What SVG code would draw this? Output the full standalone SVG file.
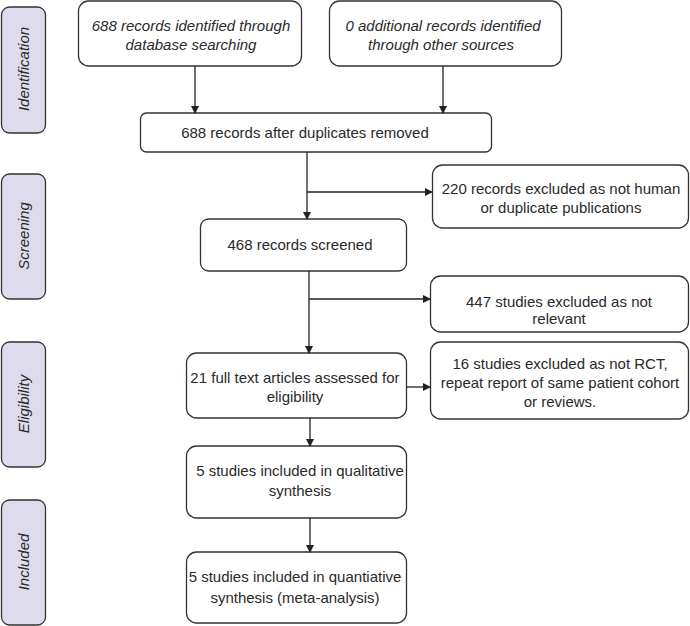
<svg xmlns="http://www.w3.org/2000/svg" width="690" height="626" viewBox="0 0 690 626">
<style>
.box{fill:#fff;stroke:#333;stroke-width:1.3}
.side{fill:#dedcec;stroke:#333;stroke-width:1.3}
text{font-family:"Liberation Sans",Arial,sans-serif;font-size:15px;fill:#2a2a2a;text-anchor:middle}
.it{font-style:italic}
.conn{stroke:#222;stroke-width:1.3;fill:none}
</style>
<defs>
<marker id="ah" markerWidth="8" markerHeight="8" refX="7" refY="4" orient="auto" markerUnits="userSpaceOnUse">
<path d="M0,0 L8,4 L0,8 Z" fill="#222"/>
</marker>
</defs>
<g id="side-identification"><rect class="side" x="1.5" y="7" width="44" height="126" rx="8"/><text class="it" transform="translate(29,69) rotate(-90)">Identification</text></g>
<g id="side-screening"><rect class="side" x="1.5" y="174" width="44" height="125" rx="8"/><text class="it" transform="translate(29,236) rotate(-90)">Screening</text></g>
<g id="side-eligibility"><rect class="side" x="1.5" y="342" width="44" height="125" rx="8"/><text class="it" transform="translate(29,404) rotate(-90)">Eligibility</text></g>
<g id="side-included"><rect class="side" x="1.5" y="500" width="44" height="125" rx="8"/><text class="it" transform="translate(29,562) rotate(-90)">Included</text></g>

<g id="n1"><rect class="box" x="78.5" y="1" width="223" height="65" rx="10"/><text class="it" x="191" y="31">688 records identified through</text><text class="it" x="191" y="50">database searching</text></g>
<g id="n2"><rect class="box" x="329.5" y="1" width="232" height="65" rx="10"/><text class="it" x="443" y="31">0 additional records identified</text><text class="it" x="441" y="50">through other sources</text></g>
<g id="n3"><rect class="box" x="140.5" y="113" width="351" height="39" rx="6"/><text x="305" y="138">688 records after duplicates removed</text></g>
<g id="n4"><rect class="box" x="432.5" y="165" width="256" height="63" rx="10"/><text x="561" y="194">220 records excluded as not human</text><text x="561" y="213">or duplicate publications</text></g>
<g id="n5"><rect class="box" x="200.5" y="219" width="206" height="52" rx="8"/><text x="300" y="250">468 records screened</text></g>
<g id="n6"><rect class="box" x="430.5" y="276" width="258" height="56" rx="10"/><text x="559" y="307">447 studies excluded as not</text><text x="559" y="324">relevant</text></g>
<g id="n7"><rect class="box" x="186.5" y="353" width="220" height="65" rx="10"/><text x="295" y="383">21 full text articles assessed for</text><text x="295" y="402">eligibility</text></g>
<g id="n8"><rect class="box" x="430.5" y="342" width="258" height="77" rx="10"/><text x="560" y="369">16 studies excluded as not RCT,</text><text x="560" y="388">repeat report of same patient cohort</text><text x="560" y="407">or reviews.</text></g>
<g id="n9"><rect class="box" x="186.5" y="446" width="220" height="72" rx="10"/><text x="300" y="476">5 studies included in qualitative</text><text x="300" y="496">synthesis</text></g>
<g id="n10"><rect class="box" x="186.5" y="552" width="220" height="71" rx="10"/><text x="295" y="582">5 studies included in quantiative</text><text x="295" y="603">synthesis (meta-analysis)</text></g>

<g id="connectors">
<path class="conn" d="M195,66 V113" marker-end="url(#ah)"/>
<path class="conn" d="M443,66 V113" marker-end="url(#ah)"/>
<path class="conn" d="M307,152 V219" marker-end="url(#ah)"/>
<path class="conn" d="M307,192 H432" marker-end="url(#ah)"/>
<path class="conn" d="M309,271 V353" marker-end="url(#ah)"/>
<path class="conn" d="M309,299 H430" marker-end="url(#ah)"/>
<path class="conn" d="M406,387 H430" marker-end="url(#ah)"/>
<path class="conn" d="M310,418 V446" marker-end="url(#ah)"/>
<path class="conn" d="M310,518 V552" marker-end="url(#ah)"/>
</g>
</svg>
